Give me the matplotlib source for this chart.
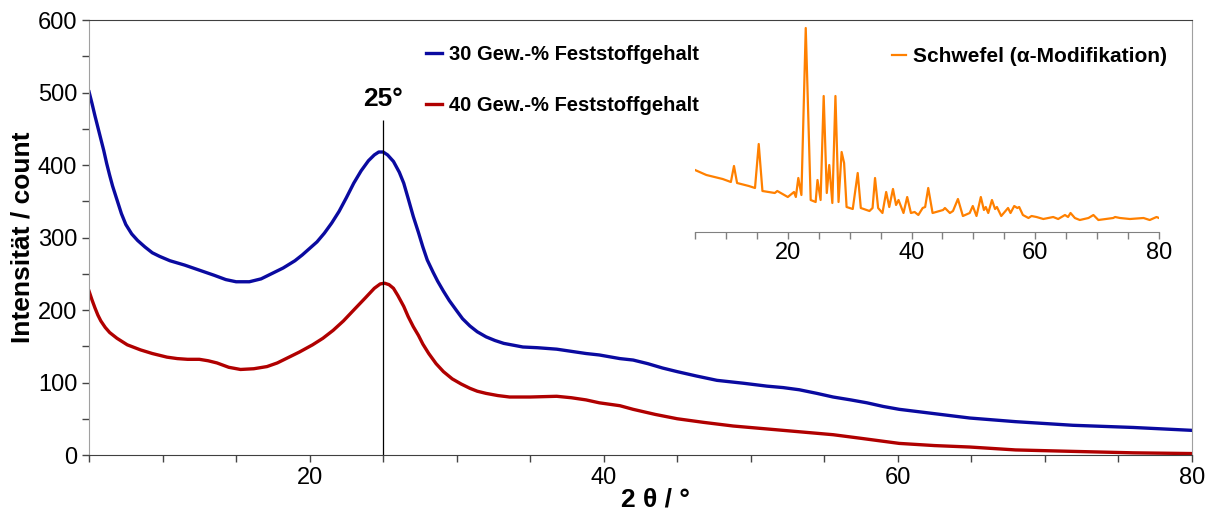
import numpy as np
import matplotlib
matplotlib.use('Agg')
from matplotlib import pyplot as plt
from matplotlib.ticker import MultipleLocator

# Schrift wie im Original (Arial-ähnlich)
plt.rcParams['font.family'] = ['Liberation Sans', 'DejaVu Sans']
plt.rcParams['axes.unicode_minus'] = False

# 30 Gew.-% Feststoffgehalt
x_30 = [5.0, 5.2, 5.4, 5.6, 5.8, 6.0, 6.2, 6.4, 6.6, 6.9, 7.2, 7.5, 7.9, 8.3, 8.8, 9.3, 9.8,
        10.5, 11.5, 12.5, 13.5, 14.3, 15.0, 15.9, 16.7, 17.5, 18.2, 19.0, 19.5, 20.0, 20.5,
        21.0, 21.5, 22.0, 22.5, 23.0, 23.5, 24.0, 24.4, 24.7, 25.0, 25.3, 25.7, 26.1, 26.4,
        26.7, 27.05, 27.4, 27.7, 28.0, 28.4, 28.7, 29.1, 29.5, 30.0, 30.4, 30.9, 31.4, 32.0,
        32.6, 33.2, 34.5, 35.5, 36.8, 37.8, 38.8, 39.7, 41.1, 42.0, 43.0, 44.0, 45.0, 46.3,
        47.7, 49.5, 51.1, 52.2, 53.3, 54.5, 55.6, 56.8, 57.9, 59.0, 60.1, 62.5, 64.9, 68.0,
        71.9, 76.0, 80.0]
y_30 = [501, 485, 468, 452, 436, 420, 402, 386, 371, 352, 333, 318, 305, 296, 287, 279, 274,
        268, 262, 255, 248, 242, 239, 239, 243, 251, 258, 268, 276, 285, 294,
        306, 320, 336, 355, 375, 392, 406, 414, 418, 418, 414, 405, 390, 375,
        354, 329, 307, 287, 269, 252, 240, 226, 213, 199, 188, 178, 170, 163,
        158, 154, 149, 148, 146, 143, 140, 138, 133, 131, 126, 120, 115, 109,
        103, 99, 95, 93, 90, 85, 80, 76, 72, 67, 63, 57, 51, 46,
        41, 38, 34]

# 40 Gew.-% Feststoffgehalt
x_40 = [5.0, 5.2, 5.4, 5.6, 5.8, 6.1, 6.4, 6.9, 7.6, 8.5, 9.3, 10.3, 11.0, 11.7, 12.5, 13.1,
        13.7, 14.5, 15.3, 16.2, 17.1, 17.8, 18.5, 19.3, 20.2, 20.9, 21.6, 22.3, 23.0, 23.8,
        24.4, 24.8, 25.1, 25.4, 25.7, 26.0, 26.4, 26.7, 27.05, 27.4, 27.7, 28.1, 28.6, 29.1,
        29.7, 30.3, 30.9, 31.4, 32.0, 32.8, 33.6, 35.0, 36.8, 37.8, 38.8, 39.7, 41.1, 42.0,
        43.5, 45.0, 46.8, 48.8, 50.5, 52.2, 53.9, 55.6, 57.5, 60.1, 62.5, 64.9, 68.0, 71.9,
        76.0, 80.0]
y_40 = [226, 214, 203, 193, 185, 176, 169, 161, 152, 145, 140, 135, 133, 132, 132, 130,
        127, 121, 118, 119, 122, 127, 134, 142, 152, 161, 172, 185, 200, 217,
        230, 236, 237, 235, 230, 220, 205, 191, 177, 165, 153, 140, 126, 115,
        105, 98, 92, 88, 85, 82, 80, 80, 81, 79, 76, 72, 68, 63,
        56, 50, 45, 40, 37, 34, 31, 28, 23, 16, 13, 11, 7, 5,
        3, 2]

# Schwefel (alpha-Modifikation), Einschub, Intensität in willkürlichen Einheiten
x_s = [5.0, 6.84, 9.47, 10.8, 11.3, 11.8, 13.7, 14.7, 15.3, 15.9, 17.9, 18.3, 20.0, 21.0,
       21.3, 21.7, 22.2, 22.9, 23.7, 24.5, 24.8, 25.3, 25.8, 26.3, 26.7, 27.2, 27.7, 28.2,
       28.7, 29.1, 29.5, 30.5, 31.3, 31.8, 33.2, 33.7, 34.1, 34.6, 35.3, 35.9, 36.4, 37.0,
       37.5, 37.9, 38.7, 39.3, 39.9, 40.5, 41.1, 41.8, 42.2, 42.7, 43.4, 45.1, 45.4, 46.2,
       46.7, 47.5, 48.3, 49.4, 49.9, 50.5, 51.2, 51.7, 52.0, 52.4, 53.0, 53.5, 53.8, 54.5,
       55.6, 56.0, 56.6, 57.1, 57.4, 58.0, 58.9, 59.4, 60.2, 61.3, 62.9, 63.7, 64.8, 65.3,
       65.7, 66.4, 67.2, 68.6, 69.4, 70.2, 72.6, 72.9, 73.7, 75.3, 77.5, 78.5, 79.6, 80.0]
y_s = [62, 57, 53, 50, 66, 49, 46, 44, 88, 41, 39, 41, 35, 40,
       35, 54, 37, 204, 32, 30, 52, 32, 136, 39, 67, 29, 136, 30,
       80, 69, 25, 23, 59, 24, 21, 24, 54, 24, 19, 40, 25, 43,
       27, 32, 19, 35, 19, 20, 17, 24, 25, 44, 19, 22, 24, 19,
       21, 33, 16, 19, 26, 16, 35, 22, 25, 19, 32, 23, 25, 16,
       24, 19, 26, 24, 25, 17, 14, 16, 15, 13, 15, 13, 17, 15,
       19, 14, 12, 14, 17, 12, 14, 15, 14, 13, 14, 12, 15, 14]

fig = plt.figure(figsize=(12.15, 5.15), dpi=100)
ax = fig.add_axes([0.0733, 0.1165, 0.9077, 0.8445])

ax.plot(x_30, y_30, color='#0a0aa0', lw=2.4, label='30 Gew.-% Feststoffgehalt')
ax.plot(x_40, y_40, color='#b00000', lw=2.4, label='40 Gew.-% Feststoffgehalt')
ax.set_xlim(5, 80)
ax.set_ylim(0, 600)

# Markierung bei 25°
ax.vlines(25, 0, 462, color='black', lw=0.9)
ax.text(25, 474, '25°', ha='center', va='bottom', fontsize=19, fontweight='bold')

ax.xaxis.set_major_locator(MultipleLocator(20))
ax.xaxis.set_minor_locator(MultipleLocator(5))
ax.yaxis.set_major_locator(MultipleLocator(100))
ax.yaxis.set_minor_locator(MultipleLocator(50))
ax.tick_params(which='both', direction='out', length=5, width=1, colors='#444444', labelcolor='black',
               labelsize=17)
ax.set_xlabel('2 θ / °', fontsize=19, fontweight='bold', labelpad=0)
ax.xaxis.set_label_coords(0.514, -0.075)
ax.set_ylabel('Intensität / count', fontsize=19, fontweight='bold', labelpad=2)
for side in ['left', 'right']:
    ax.spines[side].set_color('#a0a0a0')
for side in ['top', 'bottom']:
    ax.spines[side].set_color('#404040')

ax.legend(loc='upper left', bbox_to_anchor=(426 / 1215, 1 - 45 / 515), bbox_transform=fig.transFigure,
          frameon=False, handlelength=0.8, handletextpad=0.35, labelspacing=1.6,
          borderpad=0, borderaxespad=0, prop={'weight': 'bold', 'size': 14.5})

# Einschub: Schwefel
ins = fig.add_axes([695 / 1215, 1 - 232 / 515, 464 / 1215, 212 / 515])
ins.patch.set_alpha(0)
ins.plot(x_s, y_s, color='#ff8000', lw=1.6, label='Schwefel (α-Modifikation)')
ins.set_xlim(5, 80)
ins.set_ylim(0, 212)
ins.xaxis.set_major_locator(MultipleLocator(20))
ins.xaxis.set_minor_locator(MultipleLocator(5))
ins.set_yticks([])
for side in ['left', 'right', 'top']:
    ins.spines[side].set_visible(False)
ins.spines['bottom'].set_color('#808080')
ins.tick_params(which='both', direction='out', length=5, width=1, colors='#808080', labelcolor='black',
                labelsize=17, pad=2)
ins.legend(loc='upper left', bbox_to_anchor=(892 / 1215, 1 - 47 / 515), bbox_transform=fig.transFigure,
           frameon=False, handlelength=0.65, handletextpad=0.35, borderpad=0, borderaxespad=0,
           prop={'weight': 'bold', 'size': 15})

plt.savefig('out.png', dpi=100)
